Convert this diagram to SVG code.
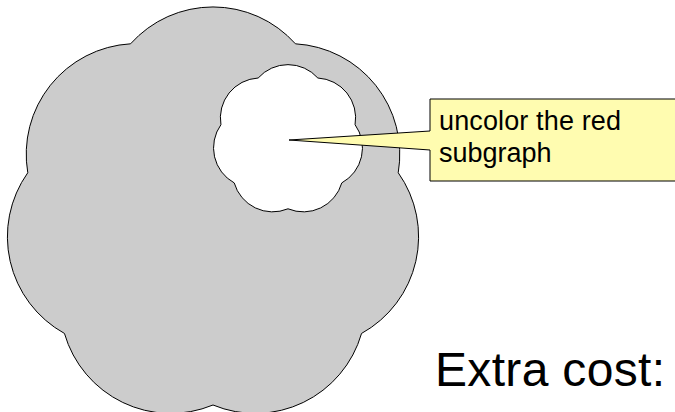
<svg xmlns="http://www.w3.org/2000/svg" width="675" height="412" viewBox="0 0 675 412">
<style>
.cloud{stroke:#000;stroke-width:1}
.big{fill:#cccccc}
.hole{fill:#ffffff}
.note{fill:#fffcb0;stroke:#000;stroke-width:1}
.t{font-family:"Liberation Sans",Arial,sans-serif;fill:#000}
</style>
<rect width="675" height="412" fill="#ffffff"/>
<g id="big-cloud">
<path class="cloud big" d="M213,405 A110.6,110.6 0 0 1 64.46,333.46 A110.6,110.6 0 0 1 27.77,172.72 A110.6,110.6 0 0 1 130.56,43.81 A110.6,110.6 0 0 1 295.44,43.81 A110.6,110.6 0 0 1 398.23,172.72 A110.6,110.6 0 0 1 361.54,333.46 A110.6,110.6 0 0 1 213,405 Z"/>
</g>
<g id="red-subgraph">
<path class="cloud hole" d="M288,208.8 A40,40 0 0 1 234.21,182.9 A40,40 0 0 1 220.93,124.69 A40,40 0 0 1 258.15,78.01 A40,40 0 0 1 317.85,78.01 A40,40 0 0 1 355.07,124.69 A40,40 0 0 1 341.79,182.9 A40,40 0 0 1 288,208.8 Z"/>
</g>
<g id="callout">
<path class="note" d="M430,99 H690 V181 H430 V150 L289,140 L430,131 Z"/>
<text class="t" x="439" y="129.5" font-size="27" textLength="182" lengthAdjust="spacing">uncolor the red</text>
<text class="t" x="439" y="162" font-size="27">subgraph</text>
</g>
<g id="extra-cost">
<text class="t" x="435" y="386" font-size="48" textLength="230" lengthAdjust="spacing">Extra cost:</text>
</g>
<g id="connectors"></g>
</svg>
